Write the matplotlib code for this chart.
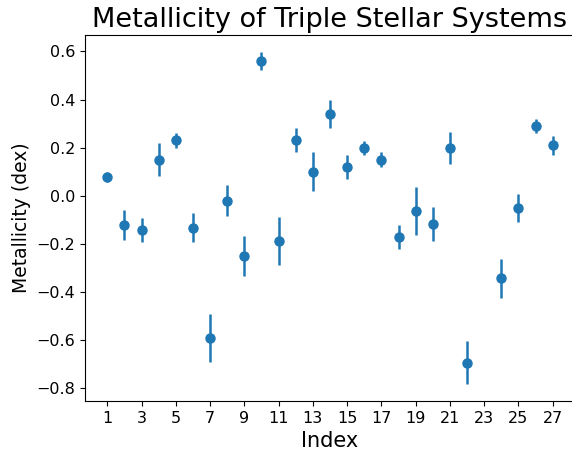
import numpy as np
import matplotlib
matplotlib.use("Agg")
import matplotlib.pyplot as plt

# index 23 has no measurement
index = [1, 2, 3, 4, 5, 6, 7, 8, 9, 10, 11, 12, 13, 14, 15, 16, 17, 18, 19, 20, 21, 22, 24, 25, 26, 27]
feh = [0.078, -0.121, -0.142, 0.15, 0.23, -0.132, -0.593, -0.02, -0.251, 0.561, -0.187, 0.23, 0.10,
       0.34, 0.12, 0.199, 0.15, -0.172, -0.062, -0.118, 0.20, -0.694, -0.343, -0.051, 0.29, 0.21]
feh_err = [0.02, 0.062, 0.05, 0.07, 0.03, 0.06, 0.10, 0.063, 0.083, 0.038, 0.10, 0.05, 0.08,
           0.06, 0.05, 0.03, 0.03, 0.05, 0.10, 0.07, 0.066, 0.09, 0.08, 0.058, 0.03, 0.04]
xticks = list(range(1, 28, 2))

fig = plt.figure(figsize=(5.72, 4.53), dpi=100)
ax = fig.add_axes([85/572, 52/453, 490/572, 366/453])

ax.errorbar(index, feh, yerr=feh_err, fmt="o", color="#1f77b4", markersize=6.5, elinewidth=1.8)

ax.spines["right"].set_visible(False)  # cut off in the original
ax.set_xticks(xticks)
ax.tick_params(labelsize=11.5)
ax.set_xlabel("Index", fontsize=15)
ax.set_ylabel("Metallicity (dex)", fontsize=13.5)
ax.set_title("Metallicity of Triple Stellar Systems", fontsize=19.5)

fig.savefig("out.png", dpi=100)
